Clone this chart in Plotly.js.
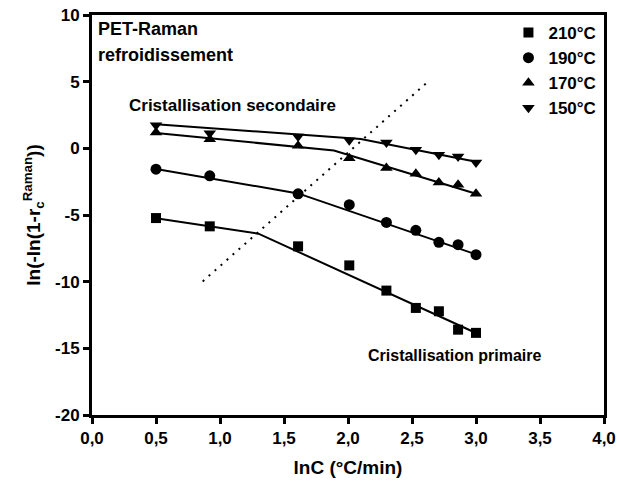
<!DOCTYPE html>
<html>
<head>
<meta charset="utf-8">
<script src="https://cdn.plot.ly/plotly-3.0.1.min.js"></script>
<style>html,body{margin:0;padding:0;background:#fff;}#chart{width:618px;height:488px;}</style>
</head>
<body>
<div id="chart"></div>
<script>
// Data
const lnC = [0.50, 0.92, 1.61, 2.01, 2.30, 2.53, 2.71, 2.86, 3.00];
const y210 = [-5.23, -5.85, -7.35, -8.78, -10.67, -11.97, -12.22, -13.60, -13.84];
const y190 = [-1.56, -2.06, -3.41, -4.23, -5.56, -6.15, -7.05, -7.23, -7.98];
const y170 = [1.18, 0.69, 0.19, -0.74, -1.48, -1.91, -2.56, -2.73, -3.41];
const y150 = [1.74, 1.14, 0.88, 0.60, 0.43, -0.11, -0.49, -0.61, -1.06];

// Fitted broken lines (secondary / primary crystallisation)
const fit210x = [0.50, 1.30, 3.00], fit210y = [-5.25, -6.40, -13.85];
const fit190x = [0.50, 1.61, 3.00], fit190y = [-1.55, -3.38, -7.95];
const fit170x = [0.50, 1.89, 3.00], fit170y = [1.15, -0.16, -3.40];
const fit150x = [0.50, 2.10, 3.00], fit150y = [1.80, 0.70, -1.00];

// Dotted separation line
const sepX = [0.865, 2.64], sepY = [-9.98, 5.13];

const seriesNames = ['210°C', '190°C', '170°C', '150°C'];
const seriesY = [y210, y190, y170, y150];
const symbols = ['square', 'circle', 'triangle-up', 'triangle-down'];
const sizes = [10, 11, 11, 11];
const fitsX = [fit210x, fit190x, fit170x, fit150x];
const fitsY = [fit210y, fit190y, fit170y, fit150y];

const yTickVals = [10, 5, 0, -5, -10, -15, -20];
const yTickText = ['10', '5', '0', '-5', '-10', '-15', '-20'];
const xTickVals = [0, 0.5, 1, 1.5, 2, 2.5, 3, 3.5, 4];
const xTickText = ['0,0', '0,5', '1,0', '1,5', '2,0', '2,5', '3,0', '3,5', '4,0'];

const FONT = 'Liberation Sans, Arial, Helvetica, sans-serif';

const traces = [];
for (let i = 0; i < 4; i++) {
  traces.push({
    x: fitsX[i], y: fitsY[i], mode: 'lines', type: 'scatter',
    line: {color: '#000', width: 2}, showlegend: false, hoverinfo: 'skip'
  });
}
traces.push({
  x: sepX, y: sepY, mode: 'lines', type: 'scatter',
  line: {color: '#000', width: 2, dash: '2px,6px'}, showlegend: false
});
for (let i = 0; i < 4; i++) {
  traces.push({
    x: lnC, y: seriesY[i], mode: 'markers', type: 'scatter', name: seriesNames[i],
    legendgroup: 'g' + i,
    marker: {symbol: symbols[i], size: sizes[i], color: '#000', line: {width: 0}}
  });
}

const layout = {
  width: 618, height: 488,
  margin: {l: 92, r: 14, t: 15, b: 73},
  paper_bgcolor: '#fff', plot_bgcolor: '#fff',
  font: {family: FONT, color: '#000', size: 17, weight: 'bold'},
  showlegend: true,
  legend: {
    x: 0.995, xanchor: 'right', y: 1, yanchor: 'top',
    bgcolor: 'rgba(0,0,0,0)', borderwidth: 0,
    font: {family: FONT, size: 17, color: '#000', weight: 'bold'},
    tracegroupgap: 0
  },
  xaxis: {
    range: [0, 4], tickvals: xTickVals, ticktext: xTickText,
    showgrid: false, zeroline: false,
    showline: true, linecolor: '#000', linewidth: 3, mirror: true,
    ticks: 'outside', ticklen: 6, tickwidth: 3, tickcolor: '#000',
    tickfont: {family: FONT, size: 17, weight: 'bold'},
    title: {text: 'lnC (°C/min)', font: {family: FONT, size: 19, weight: 'bold'}, standoff: 14}
  },
  yaxis: {
    range: [-20, 10], tickvals: yTickVals, ticktext: yTickText,
    showgrid: false, zeroline: false,
    showline: true, linecolor: '#000', linewidth: 3, mirror: true,
    ticks: 'outside', ticklen: 6, tickwidth: 3, tickcolor: '#000',
    tickfont: {family: FONT, size: 17, weight: 'bold'},
    title: {text: 'ln(-ln(1-r<sub>c</sub><sup>Raman</sup>))', font: {family: FONT, size: 19, weight: 'bold'}, standoff: 10}
  },
  annotations: [
    {xref: 'paper', yref: 'paper', x: 0.008, y: 0.965, xanchor: 'left', yanchor: 'middle',
     text: 'PET-Raman', showarrow: false, font: {family: FONT, size: 18, weight: 'bold'}},
    {xref: 'paper', yref: 'paper', x: 0.008, y: 0.9, xanchor: 'left', yanchor: 'middle',
     text: 'refroidissement', showarrow: false, font: {family: FONT, size: 18, weight: 'bold'}},
    {xref: 'x', yref: 'y', x: 1.1, y: 3.2, xanchor: 'center', yanchor: 'middle',
     text: 'Cristallisation secondaire', showarrow: false, font: {family: FONT, size: 17, weight: 'bold'}},
    {xref: 'x', yref: 'y', x: 2.83, y: -15.5, xanchor: 'center', yanchor: 'middle',
     text: 'Cristallisation primaire', showarrow: false, font: {family: FONT, size: 16, weight: 'bold'}}
  ]
};

Plotly.newPlot('chart', traces, layout, {staticPlot: true, displayModeBar: false});
</script>
</body>
</html>
